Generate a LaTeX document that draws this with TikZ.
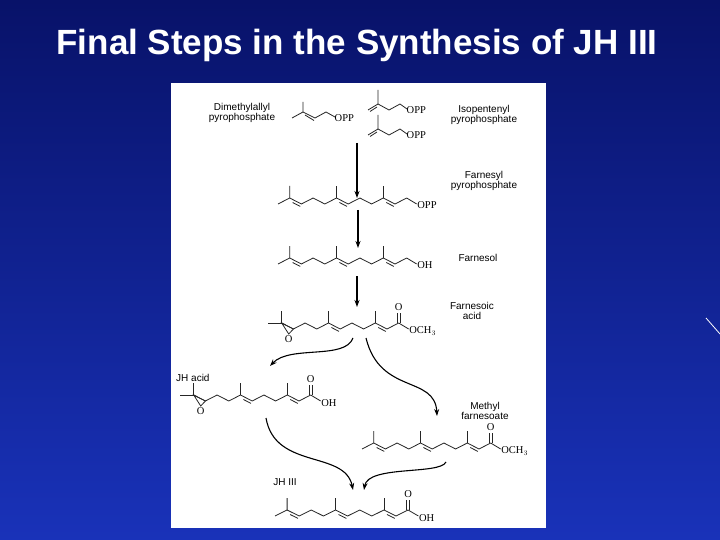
\documentclass[tikz,border=0pt]{standalone}
\usepackage{fontspec}
\setmainfont{Liberation Serif}
\newfontfamily\arial{Liberation Sans}
\usetikzlibrary{calc,arrows.meta}
\newcommand\dxx{11.7}
\newcommand\amp{6}
% main chain body v1..v11, methyls at 5,9, double bonds 5-6, 9-10
\newcommand\chainbody{%
  \draw[bond] (\dxx,-\amp) \foreach \i in {2,...,11}{ -- ({\i*\dxx},{-\amp*mod(\i,2)}) };
  \foreach \i in {5,9}{
    \draw[bond] ({\i*\dxx},-\amp) -- ({\i*\dxx},-18);
    \draw[bond] ($({\i*\dxx},-\amp)!0.25!({(\i+1)*\dxx},0)+(0,3)$) -- ($({\i*\dxx},-\amp)!0.9!({(\i+1)*\dxx},0)+(0,3)$);}
}
\newcommand\normalstart{%
  \draw[bond] (0,0) -- (\dxx,-\amp) -- (\dxx,-18);
  \draw[bond] ($(\dxx,-\amp)!0.25!({2*\dxx},0)+(0,3)$) -- ($(\dxx,-\amp)!0.9!({2*\dxx},0)+(0,3)$);}
\newcommand\epoxstart{%
  \draw[bond] (-2,-\amp) -- (\dxx,-\amp) -- (\dxx,-18);
  \draw[bond] (\dxx,-\amp) -- ({2*\dxx},0) -- ({1.6*\dxx},5) -- cycle;
  \node[chem] at ({1.6*\dxx},10) {O};}
\newcommand\textend[1]{%
  \draw[bond] ({11*\dxx},-\amp) -- ({11.85*\dxx},0);
  \node[chem,anchor=west] at ({11.85*\dxx},1) {#1};}
\newcommand\carbend[1]{%
  \draw[bond] ({11*\dxx-1.4},-\amp) -- ({11*\dxx-1.4},-16);
  \draw[bond] ({11*\dxx+1.4},-\amp) -- ({11*\dxx+1.4},-16);
  \node[chem] at ({11*\dxx},-22) {O};
  \draw[bond] ({11*\dxx},-\amp) -- ({11.85*\dxx},0);
  \node[chem,anchor=west] at ({11.85*\dxx},2) {#1};}
\newcommand\ipp[2]{%
  \begin{scope}[shift={(#1,#2)}]
  \draw[bond] (0,-14) -- (0,0) -- (11,6) -- (22,0) -- (29,5);
  \draw[bond] (0,0) -- (-10,6);
  \draw[bond] (-1,3) -- (-8,7.5);
  \node[chem,anchor=west] at (28,6) {OPP};
  \end{scope}}
\begin{document}
\begin{tikzpicture}[x=1pt,y=-1pt,
  bond/.style={line width=0.8pt,black!85},
  chem/.style={font=\fontsize{10.5}{10}\selectfont,inner sep=0.5pt},
  lab/.style={font=\arial\fontsize{10}{10}\selectfont,align=center,inner sep=0pt},
  arr/.style={line width=1.1pt,-{Stealth[length=7pt,width=5pt]}}]
\useasboundingbox (0,0) rectangle (720,540);
\shade[top color={rgb,255:red,8;green,18;blue,105}, bottom color={rgb,255:red,25;green,50;blue,185}] (0,0) rectangle (720,540);
\node[font=\arial\bfseries\fontsize{35}{35}\selectfont,text=white] (title) at (357,45) {Final Steps in the Synthesis of JH III};
\fill[white] (171,83) rectangle (546,528);
\draw[white,line width=0.8pt] (706,318) -- (720,334);
% DMAPP
\begin{scope}[shift={(292,118)}]
\draw[bond] (0,0) -- (11,-6) -- (11,-16);
\draw[bond] (11,-6) -- (23,0) -- (34,-6) -- (43,-1);
\draw[bond] (13,-3) -- (22,2.5);
\node[chem,anchor=west] at (42,0) {OPP};
\end{scope}
\ipp{378}{104}
\ipp{378}{129}
\node[lab] (dma) at (242,113) {Dimethylallyl\\pyrophosphate};
\node[lab] (ipl) at (484,115) {Isopentenyl\\pyrophosphate};
% FPP
\begin{scope}[shift={(278,204)}]\chainbody\normalstart\textend{OPP}\end{scope}
\node[lab] (fpl) at (484,181) {Farnesyl\\pyrophosphate};
% Farnesol
\begin{scope}[shift={(278,264)}]\chainbody\normalstart\textend{OH}\end{scope}
\node[lab] (fol) at (478,258) {Farnesol};
% epoxy ester
\begin{scope}[shift={(270,329)}]\chainbody\epoxstart\carbend{OCH$_3$}\end{scope}
\node[lab] (fal) at (472,311) {Farnesoic\\acid};
% JH acid
\begin{scope}[shift={(182,401)}]\chainbody\epoxstart\carbend{OH}\end{scope}
\node[lab,anchor=west] (jhal) at (176,378) {JH acid};
% methyl farnesoate
\begin{scope}[shift={(362,449)}]\chainbody\normalstart\carbend{OCH$_3$}\end{scope}
\node[lab] (mfl) at (485,411) {Methyl\\farnesoate};
% JH III
\begin{scope}[shift={(275,516)}]\def\dxx{12.1}\chainbody\normalstart\carbend{OH}\end{scope}
\node[lab] (jhl) at (285,482) {JH III};
% arrows
\coordinate (a1) at (357,143); \coordinate (b1) at (357,198);
\coordinate (a2) at (358,210); \coordinate (b2) at (358,248);
\coordinate (a3) at (357,276); \coordinate (b3) at (357,307);
\draw[arr] (a1) -- (b1);
\draw[arr] (a2) -- (b2);
\draw[arr] (a3) -- (b3);
\coordinate (c1) at (353,338); \coordinate (d1) at (270,366);
\draw[arr] (c1) .. controls (345,360) and (290,345) .. (d1);
\coordinate (c2) at (366,338); \coordinate (d2) at (437,416);
\draw[arr] (c2) .. controls (380,395) and (435,375) .. (d2);
\coordinate (c3) at (266,418); \coordinate (d3) at (353,490);
\draw[arr] (c3) .. controls (275,470) and (345,450) .. (d3);
\coordinate (c4) at (446,462); \coordinate (d4) at (364,490);
\draw[arr] (c4) .. controls (440,475) and (368,465) .. (d4);
\end{tikzpicture}
\end{document}
